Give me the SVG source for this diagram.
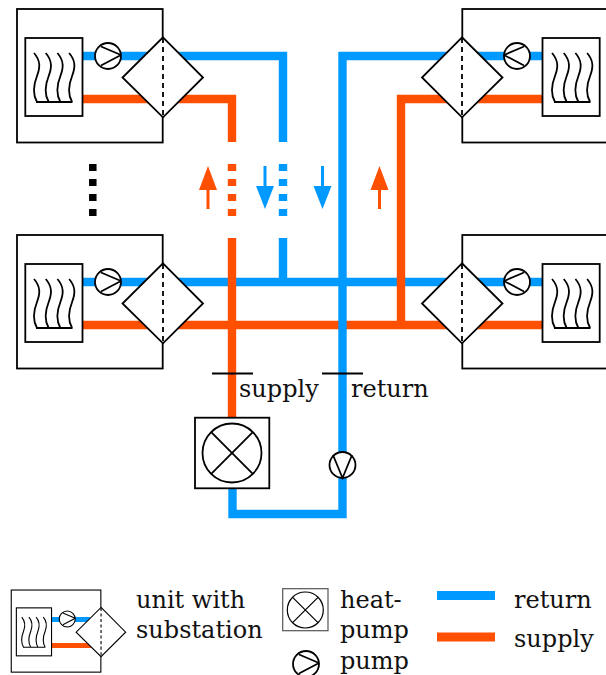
<svg xmlns="http://www.w3.org/2000/svg" width="606" height="675" viewBox="0 0 606 675">
<style>
.r{stroke:#0099ff;stroke-width:8.4;fill:none}
.s{stroke:#ff4f00;stroke-width:8.4;fill:none}
.k{stroke:#000;stroke-width:1.8;fill:none}
.w{stroke:#000;stroke-width:1.8;fill:#fff}
.t{font-family:"DejaVu Serif",serif;font-size:24px;fill:#111}
</style>
<defs>
<g id="pump-sym">
<circle class="w" cx="0" cy="0" r="13"/>
<path class="k" d="M-7 -9.500L13 -1M-7 9.500L13 -1"/>
</g>
<g id="hp-sym">
<circle class="w" cx="37" cy="35.300" r="29.500"/>
<path class="k" d="M16.200 14.500L57.800 56.100M57.800 14.500L16.200 56.100"/>
</g>
<path id="wave-sym" class="k" d="M34 53C41 61 40 68 37 76C33 86 33 95 37 102M45.700 53C52.700 61 51.700 68 48.700 76C44.700 86 44.700 95 48.700 102M57.400 53C64.400 61 63.400 68 60.400 76C56.400 86 56.400 95 60.400 102M69.100 53C76.100 61 75.100 68 72.100 76C68.100 86 68.100 95 72.100 102M36 102H72.500"/>
<g id="unit-sym">
<rect class="k" x="17" y="9" width="145.700" height="133.500"/>
<rect class="w" x="25.300" y="38" width="57.200" height="78"/>
<use href="#pump-sym" x="108" y="56"/>
<path class="w" d="M163 37.300L203 77.500L163 117.300L122.500 77.500Z"/>
<path class="k" d="M163 38V117" stroke-dasharray="5 4"/>
</g>
</defs>
<g id="connectors">
<path class="r" d="M82 56H283V142"/>
<path class="s" d="M82 99H232V142"/>
<path class="r" d="M283 164V216" stroke-dasharray="7 8"/>
<path class="s" d="M232 164V216" stroke-dasharray="7 8"/>
<path class="r" d="M82 282H542"/>
<path class="r" d="M283 238V282"/>
<path class="s" d="M82 325H542"/>
<path class="s" d="M542 99H401V325"/>
<path class="s" d="M232 238V418"/>
<path class="r" d="M542 56H342.500V514H232.500V488"/>
<path class="k" d="M212 373.500H253M322 373.500H363"/>
<path d="M208 209V185" stroke="#ff4f00" stroke-width="3" fill="none"/>
<path d="M208 166L217 190H199Z" fill="#ff4f00"/>
<path d="M379.500 209V185" stroke="#ff4f00" stroke-width="3" fill="none"/>
<path d="M379.500 166L388.500 190H370.500Z" fill="#ff4f00"/>
<path d="M265 166V190" stroke="#0099ff" stroke-width="3" fill="none"/>
<path d="M265 209L256 186H274Z" fill="#0099ff"/>
<path d="M322.500 166V190" stroke="#0099ff" stroke-width="3" fill="none"/>
<path d="M322.500 209L313.500 186H331.500Z" fill="#0099ff"/>
<path d="M52 619.500H90" stroke="#0099ff" stroke-width="5" fill="none"/>
<path d="M52 645.500H92" stroke="#ff4f00" stroke-width="5" fill="none"/>
</g>
<g id="unit-top-left"><use href="#unit-sym"/><use href="#wave-sym"/></g>
<g id="unit-bottom-left"><use href="#unit-sym" y="226"/><use href="#wave-sym" y="226"/></g>
<g id="unit-top-right"><use href="#unit-sym" transform="translate(625 0) scale(-1 1)"/><use href="#wave-sym" x="518"/></g>
<g id="unit-bottom-right"><use href="#unit-sym" transform="translate(625 226) scale(-1 1)"/><use href="#wave-sym" x="518" y="226"/></g>
<g id="more-units"><path d="M92.800 164V216" stroke="#000" stroke-width="7.500" stroke-dasharray="7 8" fill="none"/></g>
<g id="heat-pump">
<rect class="w" x="195" y="417.700" width="74.300" height="70.600"/>
<use href="#hp-sym" x="195" y="417.700"/>
</g>
<g id="return-pump">
<circle class="w" cx="342.500" cy="465" r="13"/>
<path class="k" d="M333 455L342.500 478L352 455"/>
</g>
<g id="labels">
<text class="t" x="239" y="397">supply</text>
<text class="t" x="351" y="397">return</text>
</g>
<g id="legend">
<g id="legend-unit" transform="translate(0.800 584.500) scale(0.615)"><use href="#unit-sym"/><use href="#wave-sym"/></g>
<text class="t" x="136" y="608">unit with</text>
<text class="t" x="136" y="638">substation</text>
<g id="legend-heat-pump">
<rect x="282.700" y="588.700" width="45.300" height="42" fill="#fff" stroke="#555" stroke-width="1.200"/>
<circle cx="305.300" cy="610" r="18" fill="#fff" stroke="#000" stroke-width="1.200"/>
<path d="M292.600 597.300L318 622.700M318 597.300L292.600 622.700" stroke="#000" stroke-width="1.200" fill="none"/>
</g>
<text class="t" x="340" y="608">heat-</text>
<text class="t" x="340" y="638">pump</text>
<use id="legend-pump" href="#pump-sym" x="306" y="664"/>
<text class="t" x="340" y="669">pump</text>
<rect x="437" y="591" width="58" height="9" fill="#0099ff"/>
<rect x="437" y="632.500" width="58" height="9" fill="#ff4f00"/>
<text class="t" x="514" y="608">return</text>
<text class="t" x="514" y="647">supply</text>
</g>
</svg>
